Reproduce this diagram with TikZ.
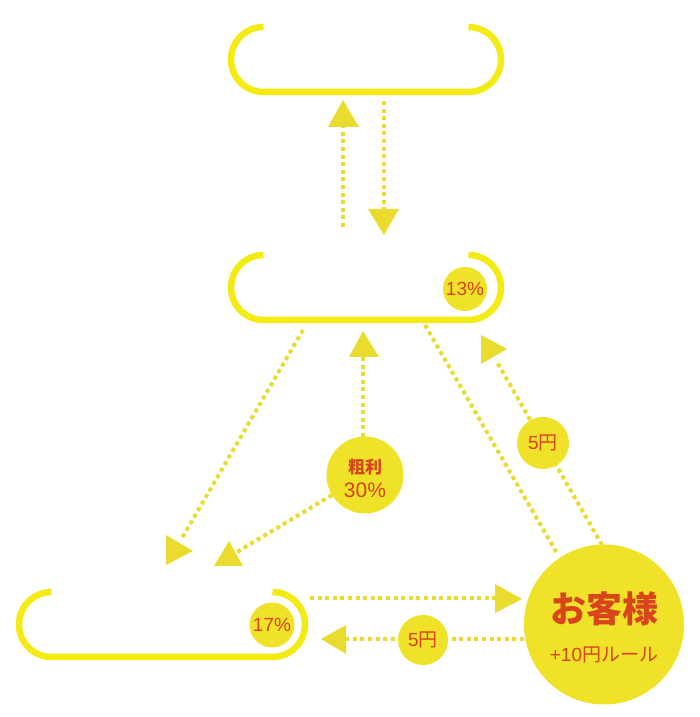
\documentclass[tikz,border=0pt]{standalone}
\usepackage{fontspec}
\newfontfamily\jp{Noto Sans CJK JP}
\newfontfamily\lat{Liberation Sans}
\definecolor{boxyel}{HTML}{F5EB14}
\definecolor{circyel}{HTML}{F0E229}
\definecolor{dotyel}{HTML}{EADC2E}
\definecolor{txtred}{HTML}{D8441C}
\begin{document}
\begin{tikzpicture}[x=1pt,y=1pt,
  boxline/.style={draw=boxyel,line width=6.5pt},
  dotline/.style={draw=dotyel,line width=4pt,dash pattern=on 4pt off 3.6pt},
  tri/.style={fill=dotyel},
  badge/.style={circle,fill=circyel,inner sep=0pt,text=txtred,font=\jp},
]
\useasboundingbox (0,0) rectangle (700,717);
% brackets (boxes)
\draw[boxline] (263.5,690) arc[start angle=90,end angle=270,radius=32.5] -- (468.5,625) arc[start angle=-90,end angle=90,radius=32.5];
\draw[boxline] (263.5,462) arc[start angle=90,end angle=270,radius=32.5] -- (468.5,397) arc[start angle=-90,end angle=90,radius=32.5];
\draw[boxline] (51.5,125) arc[start angle=90,end angle=270,radius=32.5] -- (272.5,60) arc[start angle=-90,end angle=90,radius=32.5];
% coordinates
\coordinate (u1) at (343,490); \coordinate (u2) at (343,590);
\coordinate (d1) at (384,616); \coordinate (d2) at (384,508);
\coordinate (m1) at (363,280); \coordinate (m2) at (363,360);
\coordinate (l1) at (303,387); \coordinate (l2) at (182,179);
\coordinate (g1) at (332,222); \coordinate (g2) at (237,165);
\coordinate (r1) at (425,392); \coordinate (r2) at (558,162);
\coordinate (f1) at (602,172); \coordinate (f2) at (497,355);
\coordinate (h1) at (310,119); \coordinate (h2) at (495,119);
\coordinate (b1) at (524,78);  \coordinate (b2) at (346,78);
% dotted connectors
\draw[dotline] (u1) -- (u2);
\draw[dotline] (d1) -- (d2);
\draw[dotline] (m1) -- (m2);
\draw[dotline] (l1) -- (l2);
\draw[dotline] (g1) -- (g2);
\draw[dotline] (r1) -- (r2);
\draw[dotline] (f1) -- (f2);
\draw[dotline] (h1) -- (h2);
\draw[dotline] (b1) -- (b2);
% arrow triangles
\fill[tri] (343,617) -- (328,590) -- (359,590) -- cycle;
\fill[tri] (384,482) -- (368,508) -- (399,508) -- cycle;
\fill[tri] (363,386) -- (349,360) -- (379,360) -- cycle;
\fill[tri] (193,166) -- (166,182) -- (166,152) -- cycle;
\fill[tri] (229,176) -- (214,151) -- (243,151) -- cycle;
\fill[tri] (507,368) -- (481,382) -- (481,353) -- cycle;
\fill[tri] (522,118) -- (495,133) -- (495,104) -- cycle;
\fill[tri] (321,78) -- (346,92) -- (346,63) -- cycle;
% badges
\node[badge,minimum size=44pt,font=\lat\fontsize{19}{19}\selectfont] (c13) at (465,428) {13\%};
\node[badge,minimum size=45pt,font=\lat\fontsize{19}{19}\selectfont] (c17) at (272,92) {17\%};
\node[badge,minimum size=77pt] (c30) at (365,242) {};
\node[text=txtred,font=\jp\bfseries\fontsize{17}{17}\selectfont] (t30a) at (365,250) {粗利};
\node[text=txtred,font=\lat\fontsize{21}{21}\selectfont] (t30b) at (365,227) {30\%};
\node[badge,minimum size=160pt] (cust) at (604,92.5) {};
\node[text=txtred,font=\jp\bfseries\fontsize{36}{36}\selectfont] (custa) at (604,108) {お客様};
\node[text=txtred,font=\jp\fontsize{19}{19}\selectfont] (custb) at (604,62) {{\lat +10}円ルール};
\node[badge,minimum size=50pt,font=\jp\fontsize{19}{19}\selectfont] (y5b) at (423,77) {{\lat 5}円};
\node[badge,minimum size=52pt,font=\jp\fontsize{19}{19}\selectfont] (y5r) at (543,274) {{\lat 5}円};
\end{tikzpicture}
\end{document}
